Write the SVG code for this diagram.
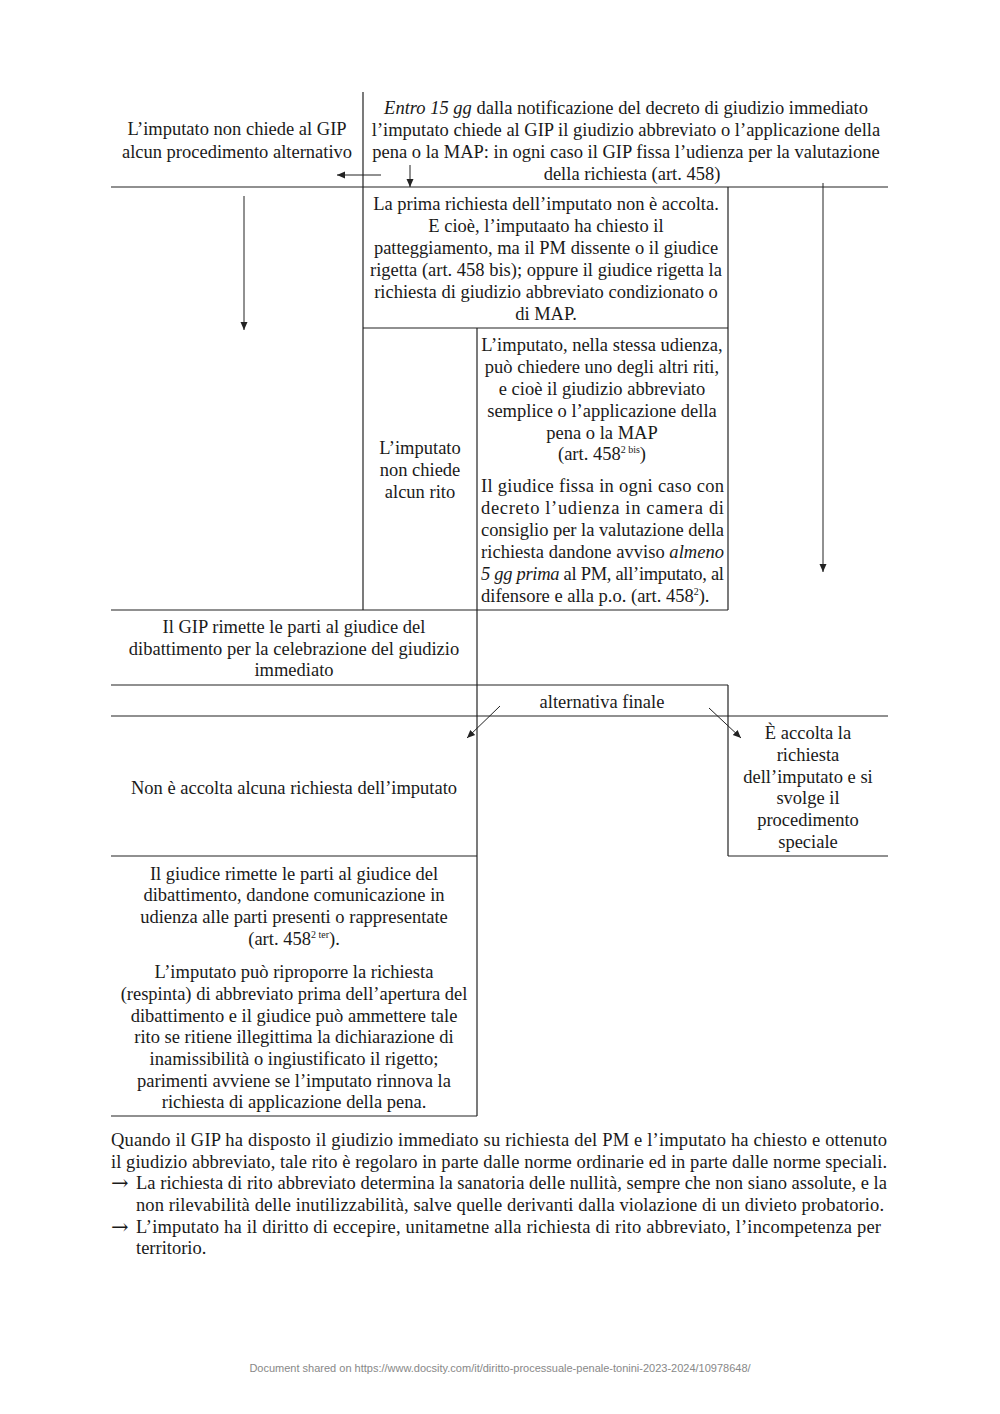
<svg xmlns="http://www.w3.org/2000/svg" width="1000" height="1414" viewBox="0 0 1000 1414">
<style>
text{font-family:"Liberation Serif","Times New Roman",serif;font-size:18.5px;fill:#1a1a1a}
.c{text-anchor:middle}
.i{font-style:italic}
.sup{font-size:10px}
.arr{font-family:"DejaVu Serif","Liberation Serif",serif;font-size:21px}
.ln{stroke:#222;stroke-width:1.2;fill:none}
.ar{stroke:#222;stroke-width:1;fill:none;marker-end:url(#ah)}
.foot{font-family:"Liberation Sans",Arial,sans-serif;font-size:11px;fill:#888}
</style>
<defs>
<marker id="ah" markerWidth="9" markerHeight="9" refX="8" refY="4.5" orient="auto" markerUnits="userSpaceOnUse">
<path d="M0,1 L8,4.5 L0,8 Z" fill="#222"/>
</marker>
</defs>
<rect width="1000" height="1414" fill="#fff"/>

<g id="grid">
<line class="ln" x1="363" y1="92" x2="363" y2="610"/>
<line class="ln" x1="111" y1="187" x2="888" y2="187"/>
<line class="ln" x1="363" y1="328" x2="728" y2="328"/>
<line class="ln" x1="728" y1="187" x2="728" y2="610"/>
<line class="ln" x1="477" y1="328" x2="477" y2="1116"/>
<line class="ln" x1="111" y1="610" x2="728" y2="610"/>
<line class="ln" x1="111" y1="685" x2="728" y2="685"/>
<line class="ln" x1="728" y1="685" x2="728" y2="856"/>
<line class="ln" x1="111" y1="716" x2="888" y2="716"/>
<line class="ln" x1="111" y1="856" x2="477" y2="856"/>
<line class="ln" x1="728" y1="856" x2="888" y2="856"/>
<line class="ln" x1="111" y1="1116" x2="477" y2="1116"/>
</g>

<g id="connectors">
<line class="ar" x1="381" y1="175" x2="337" y2="175"/>
<line class="ar" x1="410" y1="165" x2="410" y2="187"/>
<line class="ar" x1="244" y1="196" x2="244" y2="330"/>
<line class="ar" x1="823" y1="183" x2="823" y2="572"/>
<line class="ar" x1="500" y1="706" x2="467" y2="738"/>
<line class="ar" x1="709" y1="708" x2="741" y2="738"/>
</g>

<g transform="translate(0,2)">
<g id="node-no-alt">
<text class="c" x="237" y="133">L’imputato non chiede al GIP</text>
<text class="c" x="237" y="156">alcun procedimento alternativo</text>
</g>

<g id="node-entro">
<text class="c" x="626" y="112"><tspan class="i">Entro 15 gg</tspan> dalla notificazione del decreto di giudizio immediato</text>
<text class="c" x="626" y="134">l’imputato chiede al GIP il giudizio abbreviato o l’applicazione della</text>
<text class="c" x="626" y="156">pena o la MAP: in ogni caso il GIP fissa l’udienza per la valutazione</text>
<text class="c" x="632" y="178">della richiesta (art. 458)</text>
</g>

<g id="node-prima">
<text class="c" x="546" y="208">La prima richiesta dell’imputato non è accolta.</text>
<text class="c" x="546" y="230">E cioè, l’imputaato ha chiesto il</text>
<text class="c" x="546" y="252">patteggiamento, ma il PM dissente o il giudice</text>
<text class="c" x="546" y="274">rigetta (art. 458 bis); oppure il giudice rigetta la</text>
<text class="c" x="546" y="296">richiesta di giudizio abbreviato condizionato o</text>
<text class="c" x="546" y="318">di MAP.</text>
</g>

<g id="node-rito">
<text class="c" x="420" y="452">L’imputato</text>
<text class="c" x="420" y="474">non chiede</text>
<text class="c" x="420" y="496">alcun rito</text>
</g>

<g id="node-altri">
<text class="c" x="602" y="349">L’imputato, nella stessa udienza,</text>
<text class="c" x="602" y="371">può chiedere uno degli altri riti,</text>
<text class="c" x="602" y="393">e cioè il giudizio abbreviato</text>
<text class="c" x="602" y="415">semplice o l’applicazione della</text>
<text class="c" x="602" y="437">pena o la MAP</text>
<text class="c" x="602" y="458">(art. 458<tspan class="sup" dy="-7">2 bis</tspan><tspan dy="7">)</tspan></text>
<text x="481" y="490" textLength="243" lengthAdjust="spacing">Il giudice fissa in ogni caso con</text>
<text x="481" y="512" textLength="243" lengthAdjust="spacing">decreto l’udienza in camera di</text>
<text x="481" y="534" textLength="243" lengthAdjust="spacing">consiglio per la valutazione della</text>
<text x="481" y="556" textLength="243" lengthAdjust="spacing">richiesta dandone avviso <tspan class="i">almeno</tspan></text>
<text x="481" y="578" textLength="243" lengthAdjust="spacing"><tspan class="i">5 gg prima</tspan> al PM, all’imputato, al</text>
<text x="481" y="600">difensore e alla p.o. (art. 458<tspan class="sup" dy="-7">2</tspan><tspan dy="7">).</tspan></text>
</g>

<g id="node-gip-rimette">
<text class="c" x="294" y="631">Il GIP rimette le parti al giudice del</text>
<text class="c" x="294" y="653">dibattimento per la celebrazione del giudizio</text>
<text class="c" x="294" y="674">immediato</text>
</g>

<g id="node-alternativa">
<text class="c" x="602" y="706">alternativa finale</text>
</g>

<g id="node-non-accolta">
<text class="c" x="294" y="792">Non è accolta alcuna richiesta dell’imputato</text>
</g>

<g id="node-accolta">
<text class="c" x="808" y="737">È accolta la</text>
<text class="c" x="808" y="759">richiesta</text>
<text class="c" x="808" y="781">dell’imputato e si</text>
<text class="c" x="808" y="802">svolge il</text>
<text class="c" x="808" y="824">procedimento</text>
<text class="c" x="808" y="846">speciale</text>
</g>

<g id="node-giudice-rimette">
<text class="c" x="294" y="878">Il giudice rimette le parti al giudice del</text>
<text class="c" x="294" y="899">dibattimento, dandone comunicazione in</text>
<text class="c" x="294" y="921">udienza alle parti presenti o rappresentate</text>
<text class="c" x="294" y="943">(art. 458<tspan class="sup" dy="-7">2 ter</tspan><tspan dy="7">).</tspan></text>
<text class="c" x="294" y="976">L’imputato può riproporre la richiesta</text>
<text class="c" x="294" y="998">(respinta) di abbreviato prima dell’apertura del</text>
<text class="c" x="294" y="1020">dibattimento e il giudice può ammettere tale</text>
<text class="c" x="294" y="1041">rito se ritiene illegittima la dichiarazione di</text>
<text class="c" x="294" y="1063">inamissibilità o ingiustificato il rigetto;</text>
<text class="c" x="294" y="1085">parimenti avviene se l’imputato rinnova la</text>
<text class="c" x="294" y="1106">richiesta di applicazione della pena.</text>
</g>

<g id="notes">
<text x="111" y="1144" textLength="776" lengthAdjust="spacing">Quando il GIP ha disposto il giudizio immediato su richiesta del PM e l’imputato ha chiesto e ottenuto</text>
<text x="111" y="1166" textLength="776" lengthAdjust="spacing">il giudizio abbreviato, tale rito è regolaro in parte dalle norme ordinarie ed in parte dalle norme speciali.</text>
<text class="arr" x="111" y="1188">→</text>
<text x="136" y="1187" textLength="751" lengthAdjust="spacing">La richiesta di rito abbreviato determina la sanatoria delle nullità, sempre che non siano assolute, e la</text>
<text x="136" y="1209" textLength="748" lengthAdjust="spacing">non rilevabilità delle inutilizzabilità, salve quelle derivanti dalla violazione di un divieto probatorio.</text>
<text class="arr" x="111" y="1232">→</text>
<text x="136" y="1231" textLength="745" lengthAdjust="spacing">L’imputato ha il diritto di eccepire, unitametne alla richiesta di rito abbreviato, l’incompetenza per</text>
<text x="136" y="1252">territorio.</text>
</g>
</g>

<text class="foot c" x="500" y="1372">Document shared on https://www.docsity.com/it/diritto-processuale-penale-tonini-2023-2024/10978648/</text>
</svg>
